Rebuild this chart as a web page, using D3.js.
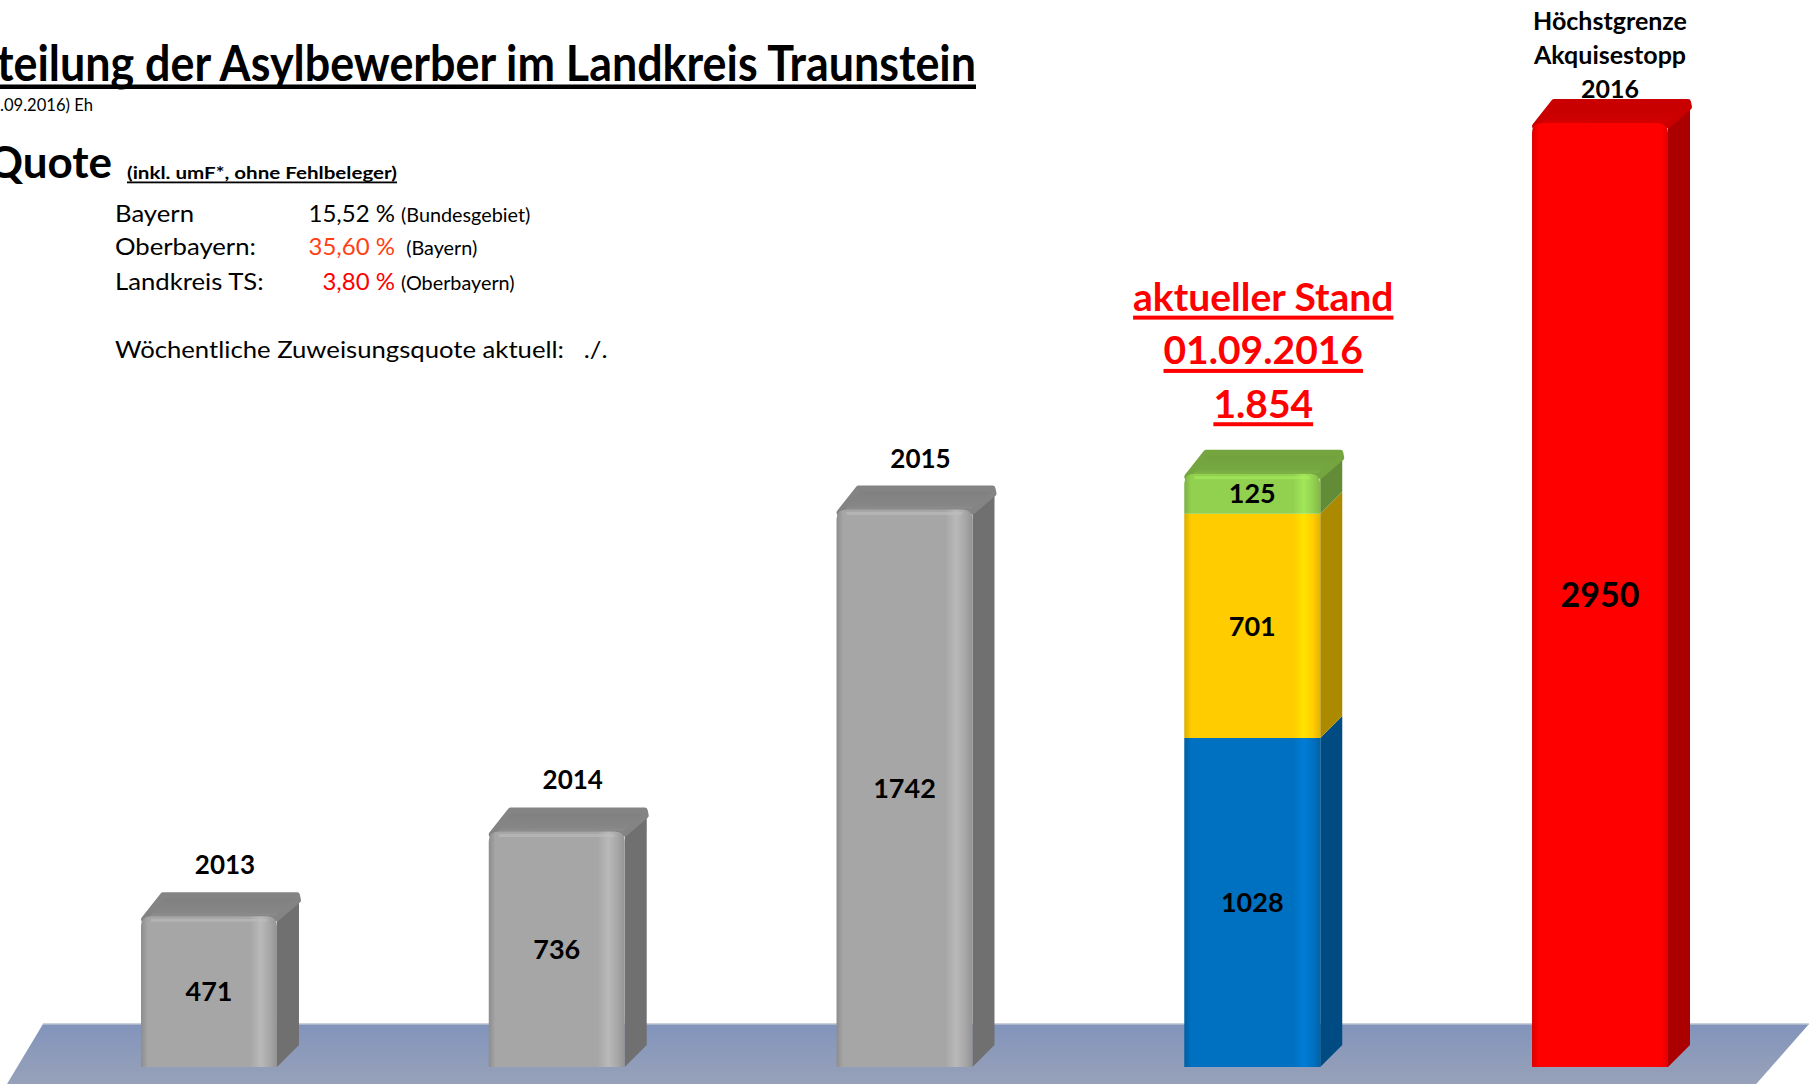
<!DOCTYPE html>
<html>
<head>
<meta charset="utf-8">
<script src="https://cdn.jsdelivr.net/npm/d3@7"></script>
<style>
  body { margin: 0; background: #fff; }
  svg { display: block; font-family: Lato, 'Open Sans', sans-serif; }
</style>
</head>
<body>
<div id="chart"></div>
<script>
const categories = ['2013', '2014', '2015', '2016', 'Grenze'];
const baseValues = [471, 736, 1742, 1028, 2950];
const midValues = [0, 0, 0, 701, 0];
const topValues = [0, 0, 0, 125, 0];
const topLabels = [
  ['2013'], ['2014'], ['2015'],
  ['aktueller Stand', '01.09.2016', '1.854'],
  ['Höchstgrenze', 'Akquisestopp', '2016']
];
const quoteNames = ['Bayern', 'Oberbayern:', 'Landkreis TS:'];
const quoteValues = ['15,52 %', '35,60 %', '3,80 %'];
const quoteRefs = [' (Bundesgebiet)', '  (Bayern)', ' (Oberbayern)'];
const weeklyText = 'Wöchentliche Zuweisungsquote aktuell:   ./.';

const W = 1809;
const H = 1084;
const depth = 22;

const baseColors = ['#a6a6a6', '#a6a6a6', '#a6a6a6', '#0070c0', '#ff0000'];
const layerColor = { mid: '#ffcc00', top: '#92d050' };
const quoteColors = ['#000', '#ff3f14', '#ff0000'];

const svg = d3.select('#chart').append('svg').attr('width', W).attr('height', H);
const defs = svg.append('defs');

const x = d3.scaleBand().domain(categories).range([141, 1668]).paddingInner(0.609).paddingOuter(0);
const y = d3.scaleLinear().domain([0, 3000]).range([1067, 107]);

// floor
const floorGrad = defs.append('linearGradient').attr('id', 'floor').attr('x1', 0).attr('y1', 0).attr('x2', 0).attr('y2', 1);
floorGrad.append('stop').attr('offset', 0).attr('stop-color', '#8294bc');
floorGrad.append('stop').attr('offset', 0.5).attr('stop-color', '#8f9cba');
floorGrad.append('stop').attr('offset', 1).attr('stop-color', '#9aa3b8');

const fy = y(0) - 2 * depth + 1;
const fx0 = x.range()[0] - 98;
const fx1 = x.range()[1] + 141;
svg.append('path')
  .attr('d', d3.line()([
    [fx0, fy], [fx1, fy],
    [fx1 - 0.88 * (H + 10 - fy), H + 10], [fx0 - 0.6 * (H + 10 - fy), H + 10]
  ]) + 'Z')
  .attr('fill', 'url(#floor)');
svg.append('line').attr('x1', fx0).attr('x2', fx1).attr('y1', fy).attr('y2', fy)
  .attr('stroke', '#b9c0cf').attr('stroke-width', 1.5);

// stacked data
const table = categories.map((c, i) => ({ cat: c, i, base: baseValues[i], mid: midValues[i], top: topValues[i] }));
const stack = d3.stack().keys(['base', 'mid', 'top'])(table);
const totals = table.map(d => d.base + d.mid + d.top);

const gradIds = {};
function frontGradient(color) {
  if (gradIds[color]) return gradIds[color];
  const id = 'g' + color.slice(1);
  const c = d3.color(color);
  const g = defs.append('linearGradient').attr('id', id).attr('x1', 0).attr('x2', 1).attr('y1', 0).attr('y2', 0);
  [[0, c.darker(0.45)], [0.05, c], [0.8, c], [0.88, c.brighter(0.3)], [0.95, c], [1, c.darker(0.35)]]
    .forEach(([o, col]) => g.append('stop').attr('offset', o).attr('stop-color', col));
  gradIds[color] = id;
  return id;
}

const segments = [];
stack.forEach(layer => {
  layer.forEach(d => {
    const v = d[1] - d[0];
    if (v <= 0) return;
    const i = d.data.i;
    const color = layer.key === 'base' ? baseColors[i] : layerColor[layer.key];
    segments.push({ i, key: layer.key, y0: d[0], y1: d[1], v, color, isTop: d[1] === totals[i] });
  });
});

const bw = x.bandwidth();
const r = 10;
const bars = svg.append('g');

segments.forEach(s => {
  const x0 = x(categories[s.i]);
  const yB = y(s.y0);
  const yT = y(s.y1);
  const c = d3.color(s.color);
  const g = bars.append('g');

  g.append('path')
    .attr('d', d3.line()([[x0 + bw, yT], [x0 + bw + depth, yT - depth], [x0 + bw + depth, yB - depth], [x0 + bw, yB]]) + 'Z')
    .attr('fill', c.darker(1.1));

  if (s.isTop) {
    const topGrad = defs.append('linearGradient').attr('id', 'top' + s.i).attr('x1', 0).attr('x2', 0).attr('y1', 0).attr('y2', 1);
    topGrad.append('stop').attr('offset', 0).attr('stop-color', c.darker(0.75));
    topGrad.append('stop').attr('offset', 0.7).attr('stop-color', c.darker(0.6));
    topGrad.append('stop').attr('offset', 1).attr('stop-color', c.darker(0.3));
    g.append('path')
      .attr('d', d3.line()([[x0 + 3, yT + 3], [x0 + depth, yT - depth + 1], [x0 + bw + depth - 2, yT - depth + 1], [x0 + bw + depth - 1, yT - depth + 6], [x0 + bw, yT + 2]]) + 'Z')
      .attr('fill', `url(#top${s.i})`)
      .attr('stroke', c.darker(0.65)).attr('stroke-width', 6).attr('stroke-linejoin', 'round');
  }

  const rr = s.isTop ? r : 0;
  g.append('path')
    .attr('d', `M${x0},${yB} L${x0},${yT + rr} Q${x0},${yT} ${x0 + rr},${yT} L${x0 + bw - rr},${yT} Q${x0 + bw},${yT} ${x0 + bw},${yT + rr} L${x0 + bw},${yB} Z`)
    .attr('fill', `url(#${frontGradient(s.color)})`);

  if (s.isTop) {
    g.append('line')
      .attr('x1', x0 + rr).attr('x2', x0 + bw - rr).attr('y1', yT + 4).attr('y2', yT + 4)
      .attr('stroke', c.brighter(0.4)).attr('stroke-opacity', 0.55).attr('stroke-width', 3);
  }

  g.append('text')
    .attr('x', x0 + bw / 2)
    .attr('y', (yT + yB) / 2)
    .attr('dy', '0.36em')
    .attr('text-anchor', 'middle')
    .attr('font-weight', 700)
    .attr('font-size', s.i === 4 ? 34 : 27)
    .attr('fill', '#000')
    .text(s.v);
});

// labels above bars
const yearStyle = { size: 26, lead: 0, gap: 20, dx: 16, fill: '#000', underline: false };
const standStyle = { size: 39, lead: 53.3, gap: 34, dx: 11, fill: '#ff0000', underline: true };
const limitStyle = { size: 25, lead: 34, gap: 3, dx: 10, fill: '#000', underline: false };

topLabels.forEach((lines, i) => {
  const st = lines.length === 1 ? yearStyle : (i === 3 ? standStyle : limitStyle);
  const cx = x(categories[i]) + bw / 2 + st.dx;
  const last = y(totals[i]) - depth - st.gap;
  lines.forEach((line, k) => {
    const by = last - (lines.length - 1 - k) * st.lead;
    const t = svg.append('text')
      .attr('x', cx).attr('y', by)
      .attr('text-anchor', 'middle')
      .attr('font-weight', 700)
      .attr('font-size', st.size)
      .attr('fill', st.fill)
      .text(line);
    if (st.underline) {
      const w = t.node().getComputedTextLength();
      svg.append('rect').attr('x', cx - w / 2).attr('y', by + 4.5).attr('width', w).attr('height', 4).attr('fill', st.fill);
    }
  });
});

// header texts
function fitVisible(sel, hidden, visibleWidth) {
  const node = sel.node();
  const n = node.getNumberOfChars();
  const full = node.getComputedTextLength();
  const vis = node.getSubStringLength(hidden, n - hidden);
  sel.attr('textLength', full * visibleWidth / vis).attr('lengthAdjust', 'spacingAndGlyphs');
}
function stretch(sel, k) {
  sel.attr('textLength', sel.node().getComputedTextLength() * k).attr('lengthAdjust', 'spacingAndGlyphs');
  return sel;
}

const title = svg.append('text')
  .attr('x', 976).attr('y', 81)
  .attr('text-anchor', 'end')
  .attr('font-weight', 700).attr('font-size', 50)
  .text('Verteilung der Asylbewerber im Landkreis Traunstein');
fitVisible(title, 3, 979);
svg.append('rect').attr('x', 0).attr('y', 84.5).attr('width', 976).attr('height', 4.5).attr('fill', '#000');

const sub = svg.append('text')
  .attr('x', 93).attr('y', 111)
  .attr('text-anchor', 'end')
  .attr('font-size', 17)
  .text('(Stand 01.09.2016) Eh');
fitVisible(sub, 9, 93);

svg.append('text')
  .attr('x', 112).attr('y', 178)
  .attr('text-anchor', 'end')
  .attr('font-weight', 700).attr('font-size', 44)
  .text('Quote');

svg.append('text')
  .attr('x', 127).attr('y', 179)
  .attr('font-weight', 700).attr('font-size', 17)
  .attr('textLength', 270).attr('lengthAdjust', 'spacingAndGlyphs')
  .text('(inkl. umF*, ohne Fehlbeleger)');
svg.append('rect').attr('x', 127).attr('y', 181.5).attr('width', 270).attr('height', 1.8).attr('fill', '#000');

const rowY = [221.7, 255, 290];
quoteNames.forEach((name, i) => {
  stretch(svg.append('text').attr('x', 115).attr('y', rowY[i]).attr('font-size', 24).text(name), 1.07);
  svg.append('text').attr('x', 395).attr('y', rowY[i]).attr('text-anchor', 'end')
    .attr('font-size', 24).attr('fill', quoteColors[i]).text(quoteValues[i]);
  stretch(svg.append('text').attr('x', 396).attr('y', rowY[i]).attr('font-size', 18.5)
    .style('white-space', 'pre').text(quoteRefs[i]), 1.07);
});

stretch(svg.append('text').attr('x', 115).attr('y', 357.7).attr('font-size', 24)
  .style('white-space', 'pre').text(weeklyText), 1.07);
</script>
</body>
</html>
